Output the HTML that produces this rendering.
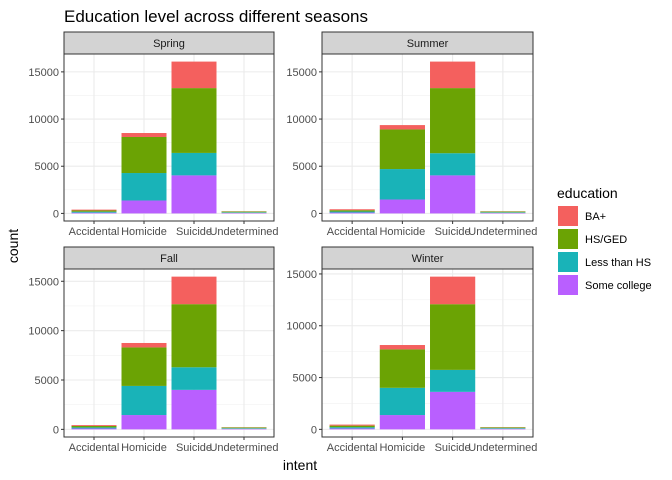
<!DOCTYPE html>
<html><head><meta charset="utf-8"><style>
body{margin:0;background:#fff;}
svg{font-family:"Liberation Sans",sans-serif;display:block;}
</style></head><body>
<svg id="chart" width="672" height="480">
<text x="64" y="22" font-size="17" fill="#000">Education level across different seasons</text>
<text x="300" y="470" font-size="14" text-anchor="middle">intent</text>
<text transform="translate(18,246) rotate(-90)" font-size="14" text-anchor="middle">count</text>
<g id="legend"></g>
</svg>
<script>
const seasons = ["Spring","Summer","Fall","Winter"];
const categories = ["Accidental","Homicide","Suicide","Undetermined"];
const educationLevels = ["Some college","Less than HS","HS/GED","BA+"];
const legendOrder = ["BA+","HS/GED","Less than HS","Some college"];
// values per season: [category][education level: SC, LHS, HS, BA]
const springValues = [[80,100,130,90],[1370,2910,3820,420],[4030,2380,6870,2810],[60,60,80,20]];
const summerValues = [[90,110,140,100],[1470,3230,4200,460],[4030,2350,6900,2810],[60,60,80,20]];
const fallValues = [[90,110,140,90],[1450,2950,3900,450],[4000,2290,6390,2790],[60,60,70,20]];
const winterValues = [[90,120,150,100],[1380,2630,3710,420],[3620,2120,6340,2660],[60,60,70,20]];
const yTicks = [0,5000,10000,15000];

const colors = {"Some college":"#B95FFF","Less than HS":"#19B3B8","HS/GED":"#6BA304","BA+":"#F4605E"};
const allValues = [springValues,summerValues,fallValues,winterValues];
const panels = [
  {x0:64,x1:274,y0:54,y1:221},
  {x0:322,x1:533,y0:54,y1:221},
  {x0:64,x1:274,y0:269,y1:437},
  {x0:322,x1:533,y0:269,y1:437}
];
const NS="http://www.w3.org/2000/svg";
const svg=document.getElementById('chart');
function mk(tag,attrs,parent){const e=document.createElementNS(NS,tag);for(const k in attrs)e.setAttribute(k,attrs[k]);(parent||svg).appendChild(e);return e;}

seasons.forEach((season,si)=>{
  const p=panels[si];
  const vals=allValues[si];
  const g=mk('g',{});
  
  
  const totals=vals.map(r=>r.reduce((a,b)=>a+b,0));
  const maxV=Math.max(...totals);
  const lo=-maxV*0.05, hi=maxV*1.05;
  const y=v=>p.y1-(v-lo)/(hi-lo)*(p.y1-p.y0);
  const unit=(p.x1-p.x0)/4.2;
  const x=i=>p.x0+unit*(0.6+i);
  const strip=mk('rect',{x:p.x0,y:p.y0-22,width:p.x1-p.x0,height:22,fill:'#D3D3D3',stroke:'#333','stroke-width':1},g);
  
  
  const st=mk('text',{x:(p.x0+p.x1)/2,y:p.y0-7,'font-size':11,'text-anchor':'middle',fill:'#1a1a1a'},g);
  st.textContent=season;
  
  
  mk('rect',{x:p.x0,y:p.y0,width:p.x1-p.x0,height:p.y1-p.y0,fill:'#fff'},g);
  for(let t=2500;t<hi;t+=5000){mk('line',{x1:p.x0,x2:p.x1,y1:y(t),y2:y(t),stroke:'#F2F2F2','stroke-width':0.6},g);}
  yTicks.forEach(t=>{
    if(t>hi)return;
    mk('line',{x1:p.x0,x2:p.x1,y1:y(t),y2:y(t),stroke:'#EBEBEB','stroke-width':1.1},g);
    mk('line',{x1:p.x0-3,x2:p.x0,y1:y(t),y2:y(t),stroke:'#333','stroke-width':1},g);
    const tl=mk('text',{x:p.x0-5,y:y(t)+4,'font-size':11,'text-anchor':'end',fill:'#4d4d4d'},g);
    tl.textContent=t;
    
    
  });
  categories.forEach((c,ci)=>{
    mk('line',{x1:x(ci),x2:x(ci),y1:p.y0,y2:p.y1,stroke:'#EBEBEB','stroke-width':1.1},g);
  });
  categories.forEach((c,ci)=>{
    let base=0;
    educationLevels.forEach((ed,ei)=>{
      const v=vals[ci][ei];
      const r=mk('rect',{x:x(ci)-unit*0.45,y:y(base+v),width:unit*0.9,height:y(base)-y(base+v),fill:colors[ed]},g);
      
      
      base+=v;
    });
    mk('line',{x1:x(ci),x2:x(ci),y1:p.y1,y2:p.y1+3,stroke:'#333','stroke-width':1},g);
    const xl=mk('text',{x:x(ci),y:p.y1+14,'font-size':11,'text-anchor':'middle',fill:'#4d4d4d'},g);
    xl.textContent=c;
    
    
  });
  mk('rect',{x:p.x0,y:p.y0,width:p.x1-p.x0,height:p.y1-p.y0,fill:'none',stroke:'#333','stroke-width':1},g);
});

const lg=document.getElementById('legend');
const lt=mk('text',{x:557,y:198,'font-size':14,fill:'#000'},lg);
lt.textContent='education';


legendOrder.forEach((ed,i)=>{
  const yy=206+i*23;
  const k=mk('rect',{x:558,y:yy,width:20,height:20,fill:colors[ed]},lg);
  
  
  const t=mk('text',{x:585,y:yy+14,'font-size':11,fill:'#000'},lg);
  t.textContent=ed;
  
  
});
</script>
</body></html>
